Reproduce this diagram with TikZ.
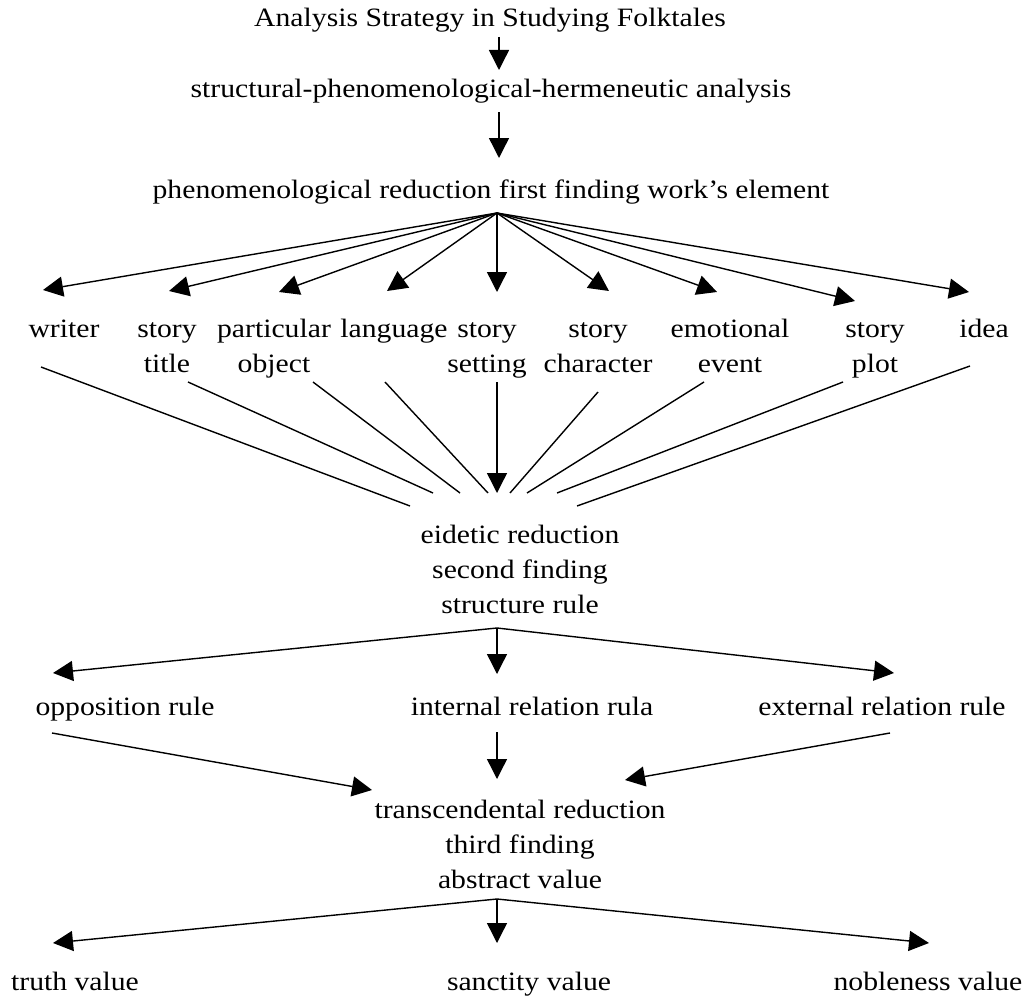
\documentclass[tikz,border=0pt]{standalone}
\usepackage{fontspec}
\setmainfont[FakeStretch=1.12]{Liberation Serif}
\usetikzlibrary{arrows.meta}
\begin{document}
\begin{tikzpicture}[x=1pt,y=-1pt,
  lbl/.style={inner sep=0pt,anchor=base,align=center,font=\fontsize{26.5}{35}\selectfont},
  con/.style={line width=1.4pt},
  arr/.style={line width=1.4pt,-{Triangle[length=20pt,width=20pt]}}]
\useasboundingbox (0,0) rectangle (1031,998);
% texts (multi-line nodes: base = baseline of last line)
\node[lbl] (title) at (490,27) {Analysis Strategy in Studying Folktales};
\node[lbl] (sph) at (491,97) {structural-phenomenological-hermeneutic analysis};
\node[lbl] (phen) at (491,198) {phenomenological reduction first finding work’s element};
\node[lbl] (writer) at (64,337) {writer};
\node[lbl] (stitle) at (167,372) {story\\title};
\node[lbl] (pobj) at (274,372) {particular\\object};
\node[lbl] (lang) at (394,337) {language};
\node[lbl] (sset) at (487,372) {story\\setting};
\node[lbl] (schar) at (598,372) {story\\character};
\node[lbl] (emo) at (730,372) {emotional\\event};
\node[lbl] (splot) at (875,372) {story\\plot};
\node[lbl] (idea) at (984,337) {idea};
\node[lbl] (eid) at (520,613) {eidetic reduction\\second finding\\structure rule};
\node[lbl] (opp) at (125,715) {opposition rule};
\node[lbl] (intr) at (532,715) {internal relation rula};
\node[lbl] (extr) at (882,715) {external relation rule};
\node[lbl] (trans) at (520,888) {transcendental reduction\\third finding\\abstract value};
\node[lbl] (truth) at (75,990) {truth value};
\node[lbl] (sanct) at (529,990) {sanctity value};
\node[lbl] (noble) at (928,990) {nobleness value};
% connector points
\coordinate (t-out) at (499,37);
\coordinate (s-in) at (499,70);
\coordinate (s-out) at (499,112);
\coordinate (p-in) at (499,158);
\coordinate (p-out) at (497,213);
\coordinate (writer-in) at (43,290);
\coordinate (stitle-in) at (169,291);
\coordinate (pobj-in) at (279,292);
\coordinate (lang-in) at (387,291);
\coordinate (sset-in) at (497,292);
\coordinate (schar-in) at (609,291);
\coordinate (emo-in) at (717,292);
\coordinate (splot-in) at (855,301);
\coordinate (idea-in) at (969,292);
\coordinate (writer-out) at (41,367);
\coordinate (stitle-out) at (188,382);
\coordinate (pobj-out) at (313,382);
\coordinate (lang-out) at (385,382);
\coordinate (sset-out) at (497,382);
\coordinate (schar-out) at (598,392);
\coordinate (emo-out) at (704,382);
\coordinate (splot-out) at (843,382);
\coordinate (idea-out) at (970,366);
\coordinate (e1) at (410,506);
\coordinate (e2) at (433,493);
\coordinate (e3) at (460,493);
\coordinate (e4) at (488,493);
\coordinate (e5) at (497,493);
\coordinate (e6) at (510,493);
\coordinate (e7) at (527,493);
\coordinate (e8) at (557,493);
\coordinate (e9) at (577,506);
\coordinate (eid-out) at (497,628);
\coordinate (opp-in) at (53,673);
\coordinate (intr-in) at (497,674);
\coordinate (extr-in) at (894,673);
\coordinate (opp-out) at (52,733);
\coordinate (intr-out) at (497,732);
\coordinate (extr-out) at (890,733);
\coordinate (tr-l) at (372,790);
\coordinate (tr-m) at (497,779);
\coordinate (tr-r) at (625,780);
\coordinate (trans-out) at (497,899);
\coordinate (truth-in) at (53,943);
\coordinate (sanct-in) at (497,943);
\coordinate (noble-in) at (929,943);
% connectors
\draw[arr] (t-out) -- (s-in);
\draw[arr] (s-out) -- (p-in);
\foreach \n in {writer,stitle,pobj,lang,sset,schar,emo,splot,idea}
  \draw[arr] (p-out) -- (\n-in);
\draw[con] (writer-out) -- (e1);
\draw[con] (stitle-out) -- (e2);
\draw[con] (pobj-out) -- (e3);
\draw[con] (lang-out) -- (e4);
\draw[arr] (sset-out) -- (e5);
\draw[con] (schar-out) -- (e6);
\draw[con] (emo-out) -- (e7);
\draw[con] (splot-out) -- (e8);
\draw[con] (idea-out) -- (e9);
\draw[arr] (eid-out) -- (opp-in);
\draw[arr] (eid-out) -- (intr-in);
\draw[arr] (eid-out) -- (extr-in);
\draw[arr] (opp-out) -- (tr-l);
\draw[arr] (intr-out) -- (tr-m);
\draw[arr] (extr-out) -- (tr-r);
\draw[arr] (trans-out) -- (truth-in);
\draw[arr] (trans-out) -- (sanct-in);
\draw[arr] (trans-out) -- (noble-in);
\end{tikzpicture}
\end{document}
